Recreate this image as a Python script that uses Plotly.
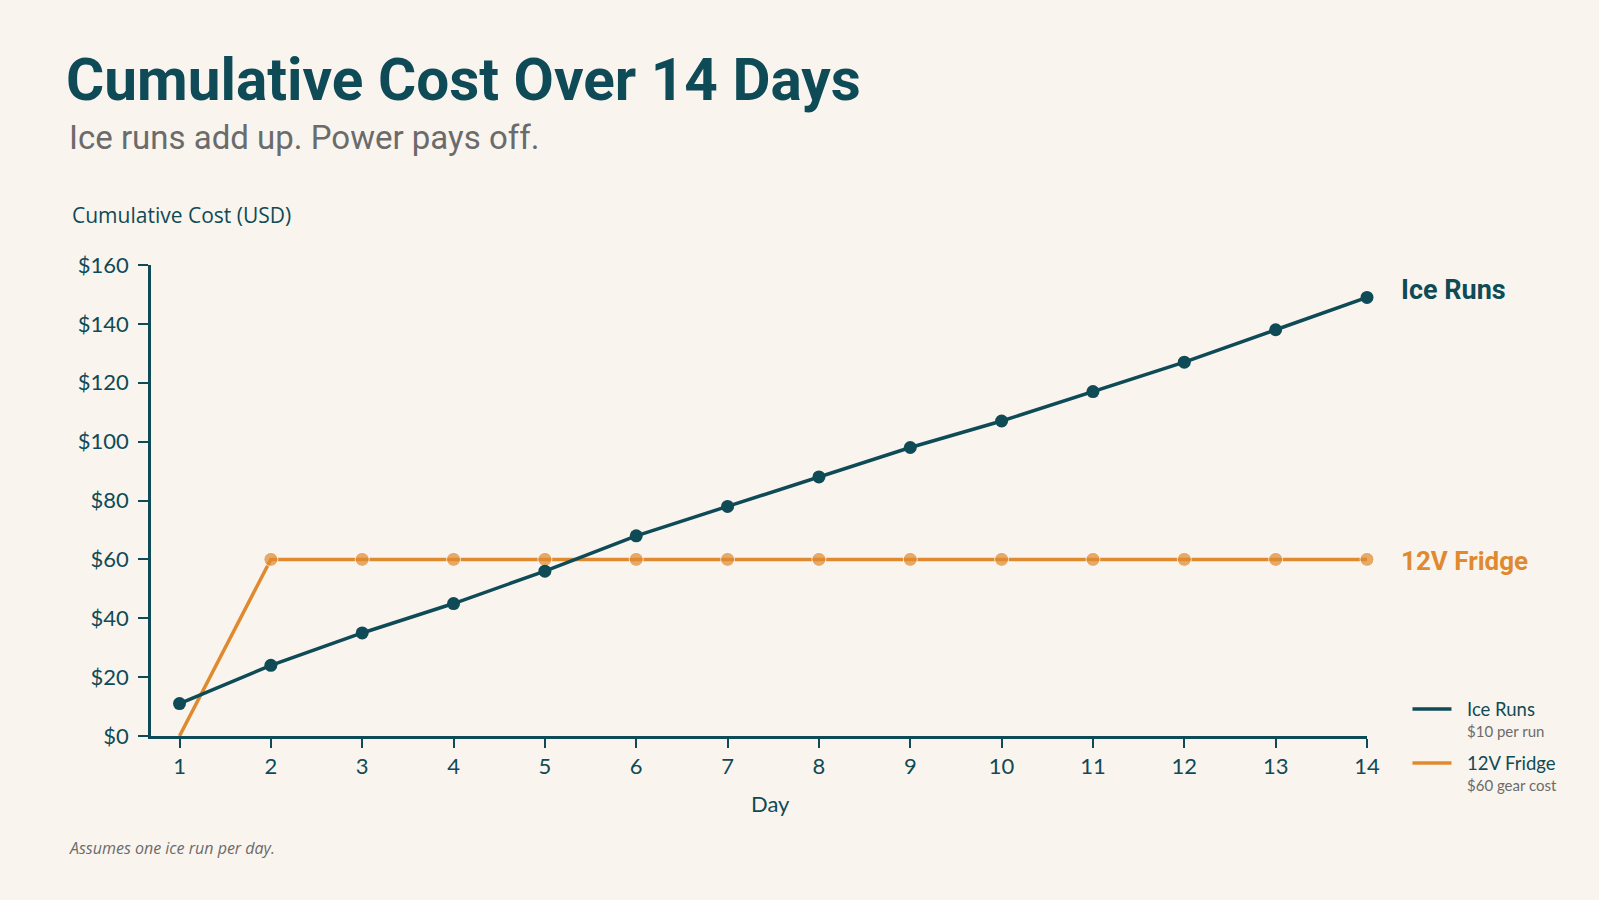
import plotly.graph_objects as go

days = list(range(1, 15))
ice_runs = [11, 24, 35, 45, 56, 68, 78, 88, 98, 107, 117, 127, 138, 149]
fridge = [0, 60, 60, 60, 60, 60, 60, 60, 60, 60, 60, 60, 60, 60]
y_ticks = [0, 20, 40, 60, 80, 100, 120, 140, 160]
y_tick_labels = ["$" + str(v) for v in y_ticks]

TEAL = "#0f4a57"
ORANGE = "#e08a30"
BG = "#f9f5ee"
GRAY = "#6b6b6b"

W, H = 1599, 900
L, R, T, B = 151, 1367.5, 265, 736
PW, PH = R - L, B - T


def px(x):
    return (x - L) / PW


def py(y):
    return (B - y) / PH


fig = go.Figure()
fig.add_trace(go.Scatter(
    x=days, y=fridge, mode="lines+markers", name="12V Fridge",
    line=dict(color=ORANGE, width=3.5),
    marker=dict(color=ORANGE, size=[0] + [14] * 13),
    cliponaxis=False, showlegend=False,
))
fig.add_trace(go.Scatter(
    x=days, y=ice_runs, mode="lines+markers", name="Ice Runs",
    line=dict(color=TEAL, width=3.5),
    marker=dict(color=TEAL, size=13),
    cliponaxis=False, showlegend=False,
))

ann = []
ann.append(dict(text="<b>Cumulative Cost Over 14 Days</b>", x=px(64), y=py(80), xref="paper", yref="paper",
                xanchor="left", yanchor="middle", showarrow=False,
                font=dict(family="Roboto, sans-serif", size=58.5, color=TEAL)))
ann.append(dict(text="Ice runs add up. Power pays off.", x=px(67), y=py(137), xref="paper", yref="paper",
                xanchor="left", yanchor="middle", showarrow=False,
                font=dict(family="Roboto, sans-serif", size=33, color=GRAY)))
ann.append(dict(text="Cumulative Cost (USD)", x=px(70), y=py(215), xref="paper", yref="paper",
                xanchor="left", yanchor="middle", showarrow=False,
                font=dict(family="Open Sans, sans-serif", size=21, color=TEAL)))
ann.append(dict(text="<i>Assumes one ice run per day.</i>", x=px(67), y=py(848), xref="paper", yref="paper",
                xanchor="left", yanchor="middle", showarrow=False,
                font=dict(family="Open Sans, sans-serif", size=16, color=GRAY)))
ann.append(dict(text="Day", x=px(771), y=py(803), xref="paper", yref="paper",
                xanchor="center", yanchor="middle", showarrow=False,
                font=dict(family="Lato, sans-serif", size=22, color=TEAL)))
# end labels
ann.append(dict(text="<b>Ice Runs</b>", x=px(1400), y=py(290), xref="paper", yref="paper",
                xanchor="left", yanchor="middle", showarrow=False,
                font=dict(family="Roboto, sans-serif", size=27, color=TEAL)))
ann.append(dict(text="<b>12V Fridge</b>", x=px(1400), y=py(561), xref="paper", yref="paper",
                xanchor="left", yanchor="middle", showarrow=False,
                font=dict(family="Roboto, sans-serif", size=26, color=ORANGE)))
# legend
legend_items = [("Ice Runs", "$10 per run", TEAL, 709), ("12V Fridge", "$60 gear cost", ORANGE, 763)]
shapes = []
for name, sub, col, yy in legend_items:
    shapes.append(dict(type="line", xref="paper", yref="paper", x0=px(1413), x1=px(1452), y0=py(yy), y1=py(yy),
                       line=dict(color=col, width=3.5)))
    ann.append(dict(text=name, x=px(1466), y=py(yy), xref="paper", yref="paper",
                    xanchor="left", yanchor="middle", showarrow=False,
                    font=dict(family="Lato, sans-serif", size=18.5, color=TEAL)))
    ann.append(dict(text=sub, x=px(1466), y=py(yy + 22), xref="paper", yref="paper",
                    xanchor="left", yanchor="middle", showarrow=False,
                    font=dict(family="Lato, sans-serif", size=15, color=GRAY)))

fig.update_layout(
    width=W, height=H,
    margin=dict(l=L, r=W - R, t=T, b=H - B),
    paper_bgcolor=BG, plot_bgcolor=BG,
    annotations=ann, shapes=shapes,
    xaxis=dict(range=[0.688, 14], tickmode="array", tickvals=days, ticks="outside", ticklen=9, tickwidth=2,
               tickcolor=TEAL, showline=True, linecolor=TEAL, linewidth=2.5, showgrid=False, zeroline=False,
               tickfont=dict(family="Lato, sans-serif", size=22, color=TEAL)),
    yaxis=dict(range=[0, 160], tickmode="array", tickvals=y_ticks, ticktext=y_tick_labels, ticks="outside",
               ticklen=10, tickwidth=2, tickcolor=TEAL, showline=True, linecolor=TEAL, linewidth=2.5,
               showgrid=False, zeroline=False, ticklabelstandoff=5,
               tickfont=dict(family="Lato, sans-serif", size=22, color=TEAL)),
    showlegend=False,
)

fig.write_html("out.html")
